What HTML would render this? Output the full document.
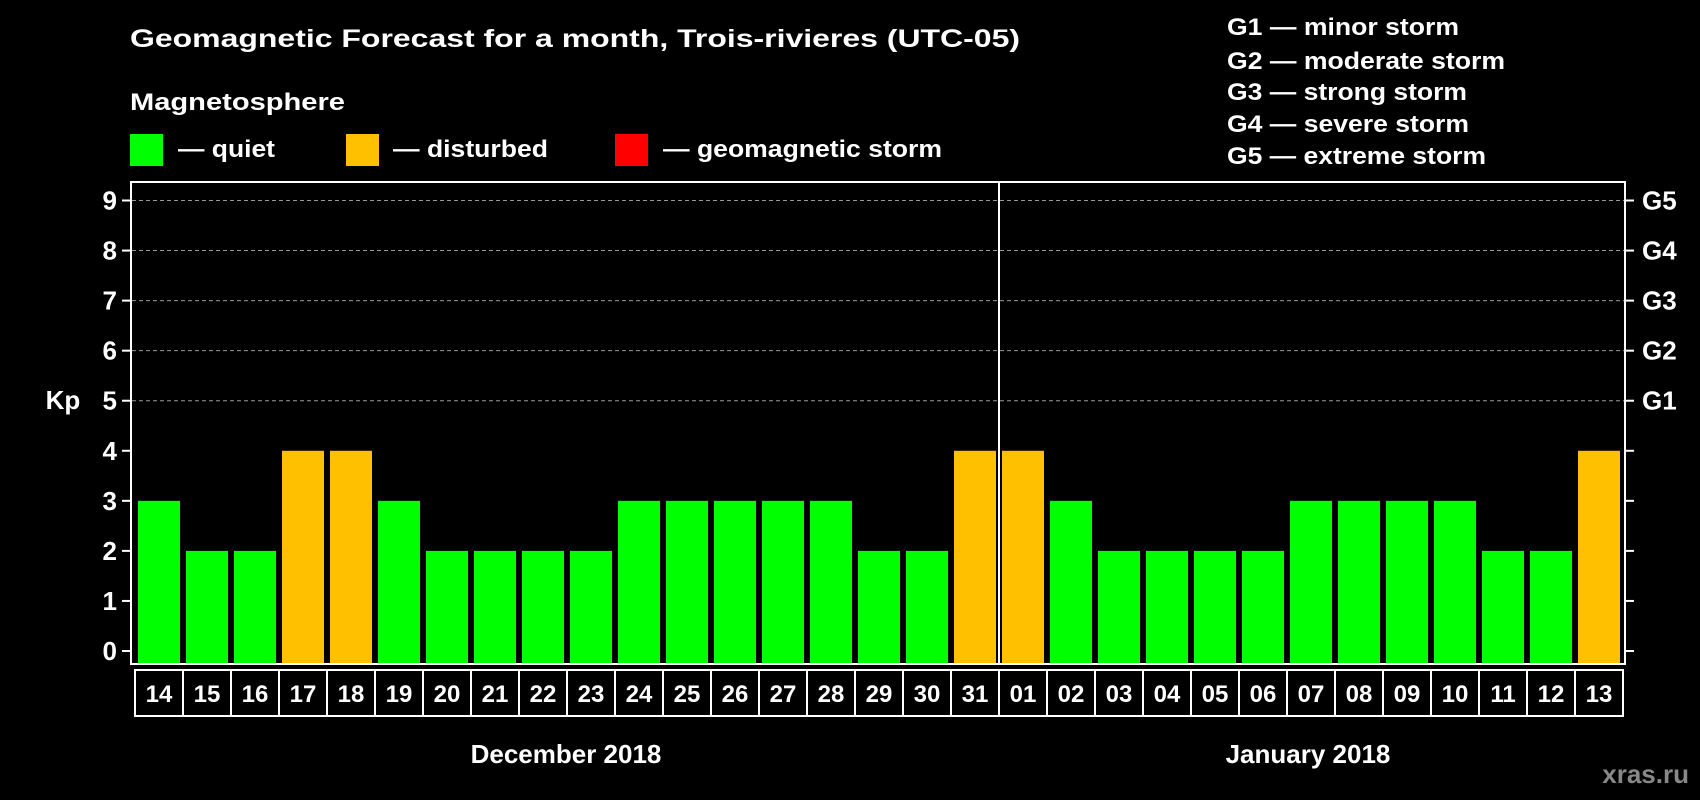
<!DOCTYPE html>
<html><head><meta charset="utf-8"><style>
html,body{margin:0;padding:0;background:#000;}
svg{display:block;font-family:"Liberation Sans",sans-serif;font-weight:bold;}
</style></head><body>
<svg id="chart" width="1700" height="800" viewBox="0 0 1700 800" xmlns="http://www.w3.org/2000/svg">
<rect x="0" y="0" width="1700" height="800" fill="#000"/>
<text x="130" y="47" fill="#fff" font-size="25" textLength="890" lengthAdjust="spacingAndGlyphs">Geomagnetic Forecast for a month, Trois-rivieres (UTC-05)</text>
<text x="130" y="110" fill="#fff" font-size="24" textLength="215" lengthAdjust="spacingAndGlyphs">Magnetosphere</text>
<rect x="130" y="134" width="33" height="32" fill="#00ff00"/>
<text x="178" y="157" fill="#fff" font-size="24" textLength="97" lengthAdjust="spacingAndGlyphs">— quiet</text>
<rect x="346" y="134" width="33" height="32" fill="#ffc000"/>
<text x="393" y="157" fill="#fff" font-size="24" textLength="155" lengthAdjust="spacingAndGlyphs">— disturbed</text>
<rect x="615" y="134" width="33" height="32" fill="#ff0000"/>
<text x="663" y="157" fill="#fff" font-size="24" textLength="279" lengthAdjust="spacingAndGlyphs">— geomagnetic storm</text>
<g fill="#fff" font-size="24">
<text x="1227" y="35" textLength="232" lengthAdjust="spacingAndGlyphs">G1 — minor storm</text>
<text x="1227" y="69" textLength="278" lengthAdjust="spacingAndGlyphs">G2 — moderate storm</text>
<text x="1227" y="100" textLength="240" lengthAdjust="spacingAndGlyphs">G3 — strong storm</text>
<text x="1227" y="132" textLength="242" lengthAdjust="spacingAndGlyphs">G4 — severe storm</text>
<text x="1227" y="164" textLength="259" lengthAdjust="spacingAndGlyphs">G5 — extreme storm</text>
</g>
<g id="grid"></g>
<g id="bars"></g>
<rect x="131" y="182" width="1494" height="482" fill="none" stroke="#fff" stroke-width="2"/>
<g id="axes"></g>
<text x="63" y="409" fill="#fff" font-size="26" text-anchor="middle">Kp</text>
<text x="566" y="763" fill="#fff" font-size="26" text-anchor="middle">December 2018</text>
<text x="1308" y="763" fill="#fff" font-size="26" text-anchor="middle">January 2018</text>
<text x="1689" y="783" fill="#888" font-size="26" text-anchor="end">xras.ru</text>
</svg>
<script>
const days = ["14","15","16","17","18","19","20","21","22","23","24","25","26","27","28","29","30","31","01","02","03","04","05","06","07","08","09","10","11","12","13"];
const kpValues = [3,2,2,4,4,3,2,2,2,2,3,3,3,3,3,2,2,4,4,3,2,2,2,2,3,3,3,3,2,2,4];
const yTicks = [0,1,2,3,4,5,6,7,8,9];
const gLabels = ["G1","G2","G3","G4","G5"];

const NS = "http://www.w3.org/2000/svg";
const y0 = 651, unit = (651-200.5)/9;
const frameBottom = 664;
function yScale(v){ return y0 - v*unit; }
const x0 = 138, step = 48, barW = 42;
function xScale(i){ return x0 + i*step; }
function mk(tag, attrs, parent){ const e=document.createElementNS(NS,tag); for(const k in attrs) e.setAttribute(k,attrs[k]); parent.appendChild(e); return e; }

const grid = document.getElementById('grid');
const bars = document.getElementById('bars');
const axes = document.getElementById('axes');

yTicks.forEach(function(t){
  const y = yScale(t);
  if(t>=5){
    const g = mk('line',{x1:132,x2:1624,y1:y,y2:y,stroke:'#999','stroke-width':1,'stroke-dasharray':'4,3'},grid);
    
    
  }
  const tl = mk('line',{x1:122,x2:131,y1:y,y2:y,stroke:'#fff','stroke-width':2},axes);
  
  
  const tr = mk('line',{x1:1625,x2:1634,y1:y,y2:y,stroke:'#fff','stroke-width':2},axes);
  
  
  const lb = mk('text',{x:117,y:y+9,fill:'#fff','font-size':26,'text-anchor':'end'},axes);
  lb.textContent = t;
  
  
});
gLabels.forEach(function(g,i){
  const y = yScale(5+i);
  const lb = mk('text',{x:1642,y:y+9,fill:'#fff','font-size':26},axes);
  lb.textContent = g;
  
  
});

kpValues.forEach(function(v,i){
  const color = v>=5 ? '#ff0000' : (v>=4 ? '#ffc000' : '#00ff00');
  const r = mk('rect',{x:xScale(i),y:yScale(v),width:barW,height:frameBottom-yScale(v),fill:color},bars);
  
  
  const bx = 135 + i*step;
  const b = mk('rect',{x:bx,y:670,width:step,height:46,fill:'none',stroke:'#fff','stroke-width':2},axes);
  
  
  const t = mk('text',{x:bx+step/2,y:702,fill:'#fff','font-size':24,'text-anchor':'middle'},axes);
  t.textContent = days[i];
  
  
});
const splitIdx = days.indexOf("01");
const dv = mk('line',{x1:xScale(splitIdx)-3,x2:xScale(splitIdx)-3,y1:182,y2:frameBottom,stroke:'#fff','stroke-width':2},axes);


</script>
</body></html>
